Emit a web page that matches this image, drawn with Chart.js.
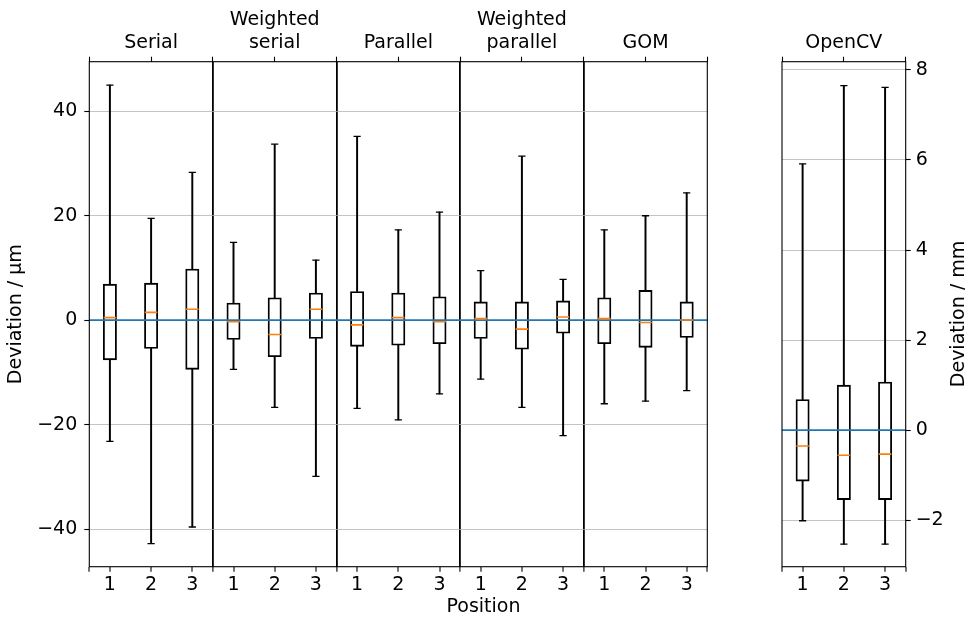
<!DOCTYPE html>
<html>
<head>
<meta charset="utf-8">
<script src="https://cdn.jsdelivr.net/npm/chart.js@4.4.0/dist/chart.umd.min.js"></script>
<style>
  html, body { margin: 0; padding: 0; background: #fff; }
  #wrap { position: relative; width: 965px; height: 617px; overflow: hidden; }
  canvas { position: absolute; top: 0; }
  #main { left: 0; }
  #side { left: 740px; }
</style>
</head>
<body>
<div id="wrap">
  <canvas id="main" width="730" height="617"></canvas>
  <canvas id="side" width="225" height="617"></canvas>
</div>
<script>
// group names (top labels), position labels, tick values
const methods = [["Serial"], ["Weighted", "serial"], ["Parallel"], ["Weighted", "parallel"], ["GOM"]];
const positionLabels = ["1", "2", "3"];
const yTicksUm = [-40, -20, 0, 20, 40];
const yTicksMm = [-2, 0, 2, 4, 6, 8];
const referenceLevel = 0;

// deviation in µm, method by method, positions 1-3
const whiskerHigh = [45.0, 19.5, 28.3, 14.9, 33.7, 11.5, 35.2, 17.3, 20.7, 9.5, 31.4, 7.8, 17.3, 20.0, 24.4];
const q3 = [6.9, 7.1, 9.8, 3.3, 4.3, 5.2, 5.5, 5.2, 4.5, 3.5, 3.5, 3.7, 4.3, 5.7, 3.5];
const median = [0.5, 1.5, 2.1, -0.3, -2.75, 2.1, -0.9, 0.5, -0.3, 0.3, -1.7, 0.6, 0.3, -0.45, 0.05];
const q1 = [-7.6, -5.4, -9.4, -3.7, -7.0, -3.5, -5.0, -4.8, -4.5, -3.5, -5.55, -2.5, -4.5, -5.2, -3.3];
const whiskerLow = [-23.2, -42.8, -39.6, -9.4, -16.7, -29.9, -16.9, -19.1, -14.1, -11.3, -16.7, -22.1, -16.0, -15.5, -13.5];

// OpenCV deviation in mm
const cvWhiskerHigh = [5.91, 7.65, 7.61];
const cvQ3 = [0.68, 1.0, 1.07];
const cvMedian = [-0.35, -0.555, -0.53];
const cvQ1 = [-1.13, -1.54, -1.54];
const cvWhiskerLow = [-2.01, -2.53, -2.53];

Chart.defaults.font.family = "'DejaVu Sans'";
Chart.defaults.font.size = 19;
Chart.defaults.color = "#000";

const minus = v => String(v).replace("-", "\u2212");
const gridGray = "rgba(176,176,176,0.75)";

function boxDatasets(xs, lo, b1, med, b3, hi, xMin, xMax) {
  const pts = arr => arr.map((v, i) => ({ x: xs[i], y: v }));
  const bars = (a, b) => a.map((v, i) => ({ x: xs[i], y: [v, b[i]] }));
  return [
    { type: "scatter", data: pts(med), showLine: false, pointStyle: "line",
      pointRadius: 6.3, borderColor: "#ff7f0e", pointBorderColor: "#ff7f0e", pointBorderWidth: 1.6 },
    { type: "line", data: [{ x: xMin, y: referenceLevel }, { x: xMax, y: referenceLevel }],
      borderColor: "#1f77b4", borderWidth: 1.8, pointRadius: 0 },
    { type: "scatter", data: pts(hi).concat(pts(lo)), showLine: false, pointStyle: "line",
      pointRadius: 3.6, borderColor: "#000", pointBorderColor: "#000", pointBorderWidth: 1.3 },
    { type: "bar", data: bars(b1, b3), grouped: false, barThickness: 13.3,
      backgroundColor: "rgba(0,0,0,0)", borderColor: "#000", borderWidth: 1.2, borderSkipped: false },
    { type: "bar", data: bars(b3, hi), grouped: false, barThickness: 1.3,
      backgroundColor: "#000", borderWidth: 0 },
    { type: "bar", data: bars(lo, b1), grouped: false, barThickness: 1.3,
      backgroundColor: "#000", borderWidth: 0 }
  ];
}

const framePlugin = {
  id: "frame",
  afterDraw(chart) {
    const { ctx, chartArea: a } = chart;
    ctx.save();
    ctx.strokeStyle = "#000";
    ctx.lineWidth = 1.1;
    ctx.strokeRect(a.left, a.top, a.right - a.left, a.bottom - a.top);
    ctx.restore();
  }
};

function textPlugin(items) {
  return {
    id: "texts",
    afterDraw(chart) {
      const ctx = chart.ctx;
      ctx.save();
      ctx.fillStyle = "#000";
      ctx.font = "19px 'DejaVu Sans'";
      ctx.textAlign = "center";
      ctx.textBaseline = "alphabetic";
      items.forEach(t => {
        ctx.save();
        ctx.translate(t.x, t.y);
        ctx.rotate(t.rot || 0);
        ctx.fillText(t.text, 0, 0);
        ctx.restore();
      });
      ctx.restore();
    }
  };
}

function makePanel(canvasId, cfg) {
  const n = cfg.xs.length;
  const xMin = 0.5, xMax = n + 0.5;
  const groups = cfg.groups;
  const edges = groups.map((_, g) => g * 3 + 0.5).concat([xMax]);
  const centers = groups.map((_, g) => g * 3 + 2);
  const innerEdge = v => v > xMin && v < xMax && !Number.isInteger(v);

  return new Chart(document.getElementById(canvasId), {
    type: "bar",
    data: { datasets: boxDatasets(cfg.xs, cfg.lo, cfg.q1, cfg.med, cfg.q3, cfg.hi, xMin, xMax) },
    plugins: [framePlugin, textPlugin(cfg.texts)],
    options: {
      responsive: false,
      animation: false,
      events: [],
      layout: { padding: cfg.padding },
      plugins: { legend: { display: false }, tooltip: { enabled: false } },
      scales: {
        x: {
          type: "linear", position: "bottom", min: xMin, max: xMax, offset: false,
          afterBuildTicks: s => { s.ticks = edges.concat(cfg.xs).sort((a, b) => a - b).map(v => ({ value: v })); },
          afterFit: s => { s.height = 50.3; },
          ticks: { padding: 1.5, autoSkip: false, maxRotation: 0,
            callback: v => Number.isInteger(v) ? positionLabels[(v - 1) % 3] : "" },
          grid: { offset: false, drawOnChartArea: true, tickLength: 5, tickColor: "#000", tickWidth: 1.1,
            color: c => innerEdge(c.tick.value) ? "#000" : "rgba(0,0,0,0)",
            lineWidth: c => innerEdge(c.tick.value) ? 1.8 : 0 },
          border: { display: false }
        },
        xt: {
          type: "linear", position: "top", min: xMin, max: xMax, offset: false,
          afterBuildTicks: s => { s.ticks = edges.concat(centers).sort((a, b) => a - b).map(v => ({ value: v })); },
          afterFit: s => { s.height = 61.7; },
          ticks: { padding: 2, autoSkip: false, maxRotation: 0,
            callback: v => { const g = centers.indexOf(v); return g >= 0 ? groups[g] : ""; } },
          grid: { offset: false, drawOnChartArea: false, tickLength: 5, tickColor: "#000", tickWidth: 1.1 },
          border: { display: false }
        },
        y: {
          type: "linear", position: cfg.yPos, min: cfg.yMin, max: cfg.yMax,
          afterBuildTicks: s => { s.ticks = cfg.yTicks.map(v => ({ value: v })); },
          afterFit: s => { s.width = cfg.yWidth; },
          ticks: { padding: cfg.yPad, callback: v => minus(v) },
          grid: { color: gridGray, lineWidth: 1, tickLength: 5, tickColor: "#000", tickWidth: 1.1 },
          border: { display: false },
          title: cfg.yTitle ? { display: true, text: cfg.yTitle, padding: { top: 4.2, bottom: 0 } } : { display: false }
        }
      }
    }
  });
}

makePanel("main", {
  groups: methods,
  xs: whiskerHigh.map((_, i) => i + 1),
  lo: whiskerLow, q1: q1, med: median, q3: q3, hi: whiskerHigh,
  yMin: -47.2, yMax: 49.5, yTicks: yTicksUm, yPos: "left", yWidth: 89.3, yPad: 7,
  yTitle: "Deviation / \u00b5m",
  padding: { left: 0, right: 22.7, top: 0, bottom: 0 },
  texts: [{ text: "Position", x: 483.5, y: 612.3 }]
});

makePanel("side", {
  groups: [["OpenCV"]],
  xs: cvWhiskerHigh.map((_, i) => i + 1),
  lo: cvWhiskerLow, q1: cvQ1, med: cvMedian, q3: cvQ3, hi: cvWhiskerHigh,
  yMin: -3.03, yMax: 8.18, yTicks: yTicksMm, yPos: "right", yWidth: 59.3, yPad: 5,
  yTitle: null,
  padding: { left: 42, right: 0, top: 0, bottom: 0 },
  texts: [{ text: "Deviation / mm", x: 224, y: 314, rot: -Math.PI / 2 }]
});
</script>
</body>
</html>
